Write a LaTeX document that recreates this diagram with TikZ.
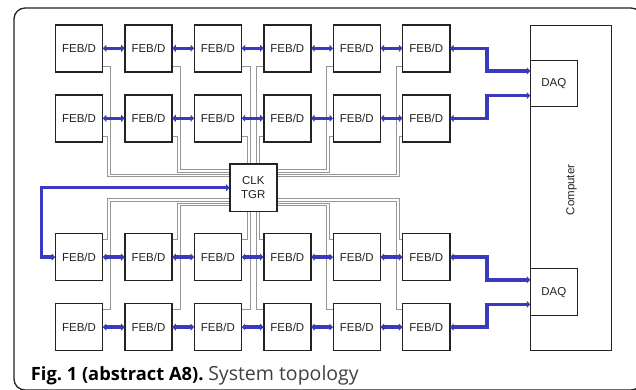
\documentclass[tikz,border=0pt]{standalone}
\usepackage{fontspec}
\setmainfont{Liberation Sans}
\newfontfamily\capfont{Open Sans}
\usetikzlibrary{arrows.meta}
\definecolor{linkblue}{RGB}{58,58,188}
\definecolor{cablegray}{RGB}{150,150,150}
\definecolor{inkgray}{RGB}{35,35,35}

\begin{document}
\begin{tikzpicture}[x=1pt,y=-1pt,
  unit/.style={draw=inkgray, line width=0.9pt, fill=white,
    minimum width=46.7pt, minimum height=46.7pt, inner sep=0pt,
    font=\fontsize{11.5}{13.5}\selectfont, text=inkgray},
  link/.style={draw=linkblue, line width=3.4pt,
    {Triangle[length=3.5pt,width=7pt]}-{Triangle[length=3.5pt,width=7pt]}},
  cable/.style={draw=cablegray, line width=1pt},
]
\useasboundingbox (0,0) rectangle (636,389);

% outer frame
\draw[line width=1.3pt, inkgray, rounded corners=11pt] (14,8) rectangle (642,390);

% computer with its two DAQ units
\node[unit, minimum width=81pt, minimum height=325.4pt] (comp) at (571.2,187.7) {};
\node[font=\fontsize{11.5}{13.5}\selectfont, text=inkgray, rotate=90] (complabel) at (571.5,190) {Computer};
\node[unit, minimum width=46.3pt] (daqA) at (553.85,83.3) {DAQ};
\node[unit, minimum width=46.3pt] (daqB) at (553.85,292.1) {DAQ};

% FEB/D units: rows 1-4, columns 1-6
\foreach \r/\y in {1/48.3, 2/118.3, 3/257.1, 4/327.1}{
  \foreach \c/\x in {1/79.0, 2/148.45, 3/217.9, 4/287.35, 5/356.8, 6/426.25}{
    \node[unit] (f\r\c) at (\x,\y) {FEB/D};
  }
}

% clock / trigger distributor
\node[unit, align=center, font=\fontsize{11.5}{14}\selectfont] (clk) at (253.35,187.7) {CLK\\TGR};

% clock/trigger cables, upper half
\draw[cable] ([yshift=6pt]f11.south east) -| (110,174) -- (clk.west |- 0,174);
\draw[cable] ([yshift=6pt]f21.south east) -| (107.3,176.7) -- (clk.west |- 0,176.7);
\draw[cable] ([yshift=6pt]f12.south east) -| (180,169.7) -- (clk.west |- 0,169.7);
\draw[cable] ([yshift=6pt]f22.south east) -| (177.3,172.2) -- (clk.west |- 0,172.2);
\draw[cable] ([yshift=6pt]f13.south east) -| (clk.north -| 250.5,0);
\draw[cable] ([yshift=6pt]f23.south east) -| (clk.north -| 247.7,0);
\draw[cable] ([yshift=6pt]f14.south west) -| (clk.north -| 256.2,0);
\draw[cable] ([yshift=6pt]f24.south west) -| (clk.north -| 259,0);
\draw[cable] ([yshift=6pt]f15.south west) -| (326.7,169.7) -- (clk.east |- 0,169.7);
\draw[cable] ([yshift=6pt]f25.south west) -| (329.4,172.2) -- (clk.east |- 0,172.2);
\draw[cable] ([yshift=6pt]f16.south west) -| (396.7,174) -- (clk.east |- 0,174);
\draw[cable] ([yshift=6pt]f26.south west) -| (399.4,176.7) -- (clk.east |- 0,176.7);
% lower half
\draw[cable] ([yshift=-6pt]f41.north east) -| (110,201.4) -- (clk.west |- 0,201.4);
\draw[cable] ([yshift=-6pt]f31.north east) -| (107.3,198.7) -- (clk.west |- 0,198.7);
\draw[cable] ([yshift=-6pt]f42.north east) -| (180,205.7) -- (clk.west |- 0,205.7);
\draw[cable] ([yshift=-6pt]f32.north east) -| (177.3,203.2) -- (clk.west |- 0,203.2);
\draw[cable] ([yshift=-6pt]f43.north east) -| (clk.south -| 250.5,0);
\draw[cable] ([yshift=-6pt]f33.north east) -| (clk.south -| 247.7,0);
\draw[cable] ([yshift=-6pt]f44.north west) -| (clk.south -| 256.2,0);
\draw[cable] ([yshift=-6pt]f34.north west) -| (clk.south -| 259,0);
\draw[cable] ([yshift=-6pt]f45.north west) -| (326.7,205.7) -- (clk.east |- 0,205.7);
\draw[cable] ([yshift=-6pt]f35.north west) -| (329.4,203.2) -- (clk.east |- 0,203.2);
\draw[cable] ([yshift=-6pt]f46.north west) -| (396.7,201.4) -- (clk.east |- 0,201.4);
\draw[cable] ([yshift=-6pt]f36.north west) -| (399.4,198.7) -- (clk.east |- 0,198.7);

% box outlines drawn again over the cable ends
\foreach \r in {1,2,3,4}{
  \foreach \c in {1,...,6}{
    \draw[draw=inkgray, line width=0.9pt] (f\r\c.south west) rectangle (f\r\c.north east);
  }
}
\draw[draw=inkgray, line width=0.9pt] (clk.south west) rectangle (clk.north east);

% data links along each row
\foreach \r in {1,2,3,4}{
  \foreach \c [evaluate=\c as \n using int(\c+1)] in {1,...,5}{
    \draw[link] (f\r\c.east) -- (f\r\n.west);
  }
}
\draw[link] (f16.east) -- ++(37,0) |- ([yshift=12.3pt]daqA.west);
\draw[link] (f26.east) -- ++(37,0) |- ([yshift=-12.3pt]daqA.west);
\draw[link] (f36.east) -- ++(37,0) |- ([yshift=12.3pt]daqB.west);
\draw[link] (f46.east) -- ++(37,0) |- ([yshift=-12.3pt]daqB.west);
\draw[link] (clk.west) -| ([xshift=-14pt]f31.west) -- (f31.west);

% caption
\node[anchor=base west, inner sep=0pt, font=\capfont\fontsize{18.3}{21}\selectfont] (caption) at (30.7,380)
  {\textbf{Fig.~1 (abstract A8).}\ {\color{black!75}\fontsize{19.5}{21}\selectfont System topology}};
\end{tikzpicture}
\end{document}
